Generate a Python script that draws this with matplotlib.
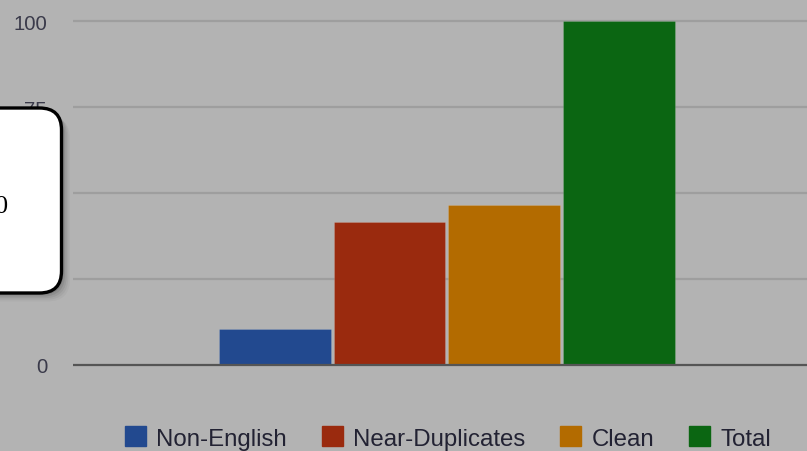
import matplotlib
matplotlib.use("Agg")
import matplotlib.pyplot as plt
from matplotlib.patches import FancyBboxPatch, Patch
from matplotlib.transforms import IdentityTransform

# ---- data ----
categories = ["Non-English", "Near-Duplicates", "Clean", "Total"]
values = [10.5, 41.6, 46.5, 100]
colors = ["#22498f", "#9a2a0e", "#b36b00", "#0b6612"]
yticks = [0, 25, 50, 75, 100]
callout_text = "0"

BG = "#b3b3b3"
W, H = 807, 452
fig = plt.figure(figsize=(W / 100, H / 100), dpi=100, facecolor=BG)
plt.rcParams["font.family"] = ["Liberation Sans", "DejaVu Sans"]

# axes: y=0 at px 366, y=100 at px 22  (3.44 px per unit)
ppu = 3.44
ylo, yhi = -5, 104
bot_px = 366 + (-ylo) * ppu
top_px = 366 - yhi * ppu
ax = fig.add_axes([73 / W, (H - bot_px) / H, 1 - 73 / W, (bot_px - top_px) / H])
ax.set_facecolor(BG)
for s in ax.spines.values():
    s.set_visible(False)

x = list(range(len(categories)))
ax.bar(x, values, width=0.978, color=colors, zorder=3,
       edgecolor=(1, 1, 1, 0.15), linewidth=0.6)
ax.set_xlim(-1.764, 4.646)
ax.set_ylim(ylo, yhi)
ax.set_yticks(yticks)
ax.set_yticklabels([str(t) for t in yticks], fontsize=14.7, color="#3a3a4a")
ax.tick_params(axis="y", length=0, pad=18.7)
ax.set_xticks([])
for t in yticks[1:]:
    ax.axhline(t, color="#9e9e9e", lw=1.6, zorder=1)
ax.axhline(0, color="#555555", lw=1.6, zorder=4)

# legend
handles = [Patch(facecolor=c, edgecolor=c, label=l) for c, l in zip(colors, categories)]
fig.legend(handles=handles, loc="center", bbox_to_anchor=(448 / W, (H - 439) / H),
           ncol=4, frameon=False, fontsize=17.3, handlelength=0.875, handleheight=0.875,
           handletextpad=0.42, columnspacing=1.46, labelcolor="#222233")

# callout box (overlay) with shadow
bx0, bx1 = -60, 61.5
by0, by1 = H - 294, H - 109
for i, a in enumerate([0.10, 0.08, 0.06, 0.04, 0.03]):
    off = 2 + i * 1.6
    sh = FancyBboxPatch((bx0 + off, by0 - off), bx1 - bx0, by1 - by0,
                        boxstyle="round,pad=0,rounding_size=22",
                        transform=IdentityTransform(), facecolor=(0, 0, 0, a),
                        edgecolor="none", zorder=9)
    fig.patches.append(sh)
box = FancyBboxPatch((bx0, by0), bx1 - bx0, by1 - by0,
                     boxstyle="round,pad=0,rounding_size=22",
                     transform=IdentityTransform(), facecolor="white",
                     edgecolor="black", linewidth=2.4, zorder=10)
fig.patches.append(box)
fig.text(8 / W, (H - 207) / H, callout_text, ha="right", va="center",
         fontsize=19, family=["Liberation Serif", "DejaVu Serif"], color="black", zorder=11)

fig.savefig("out.png", dpi=100, facecolor=BG)
